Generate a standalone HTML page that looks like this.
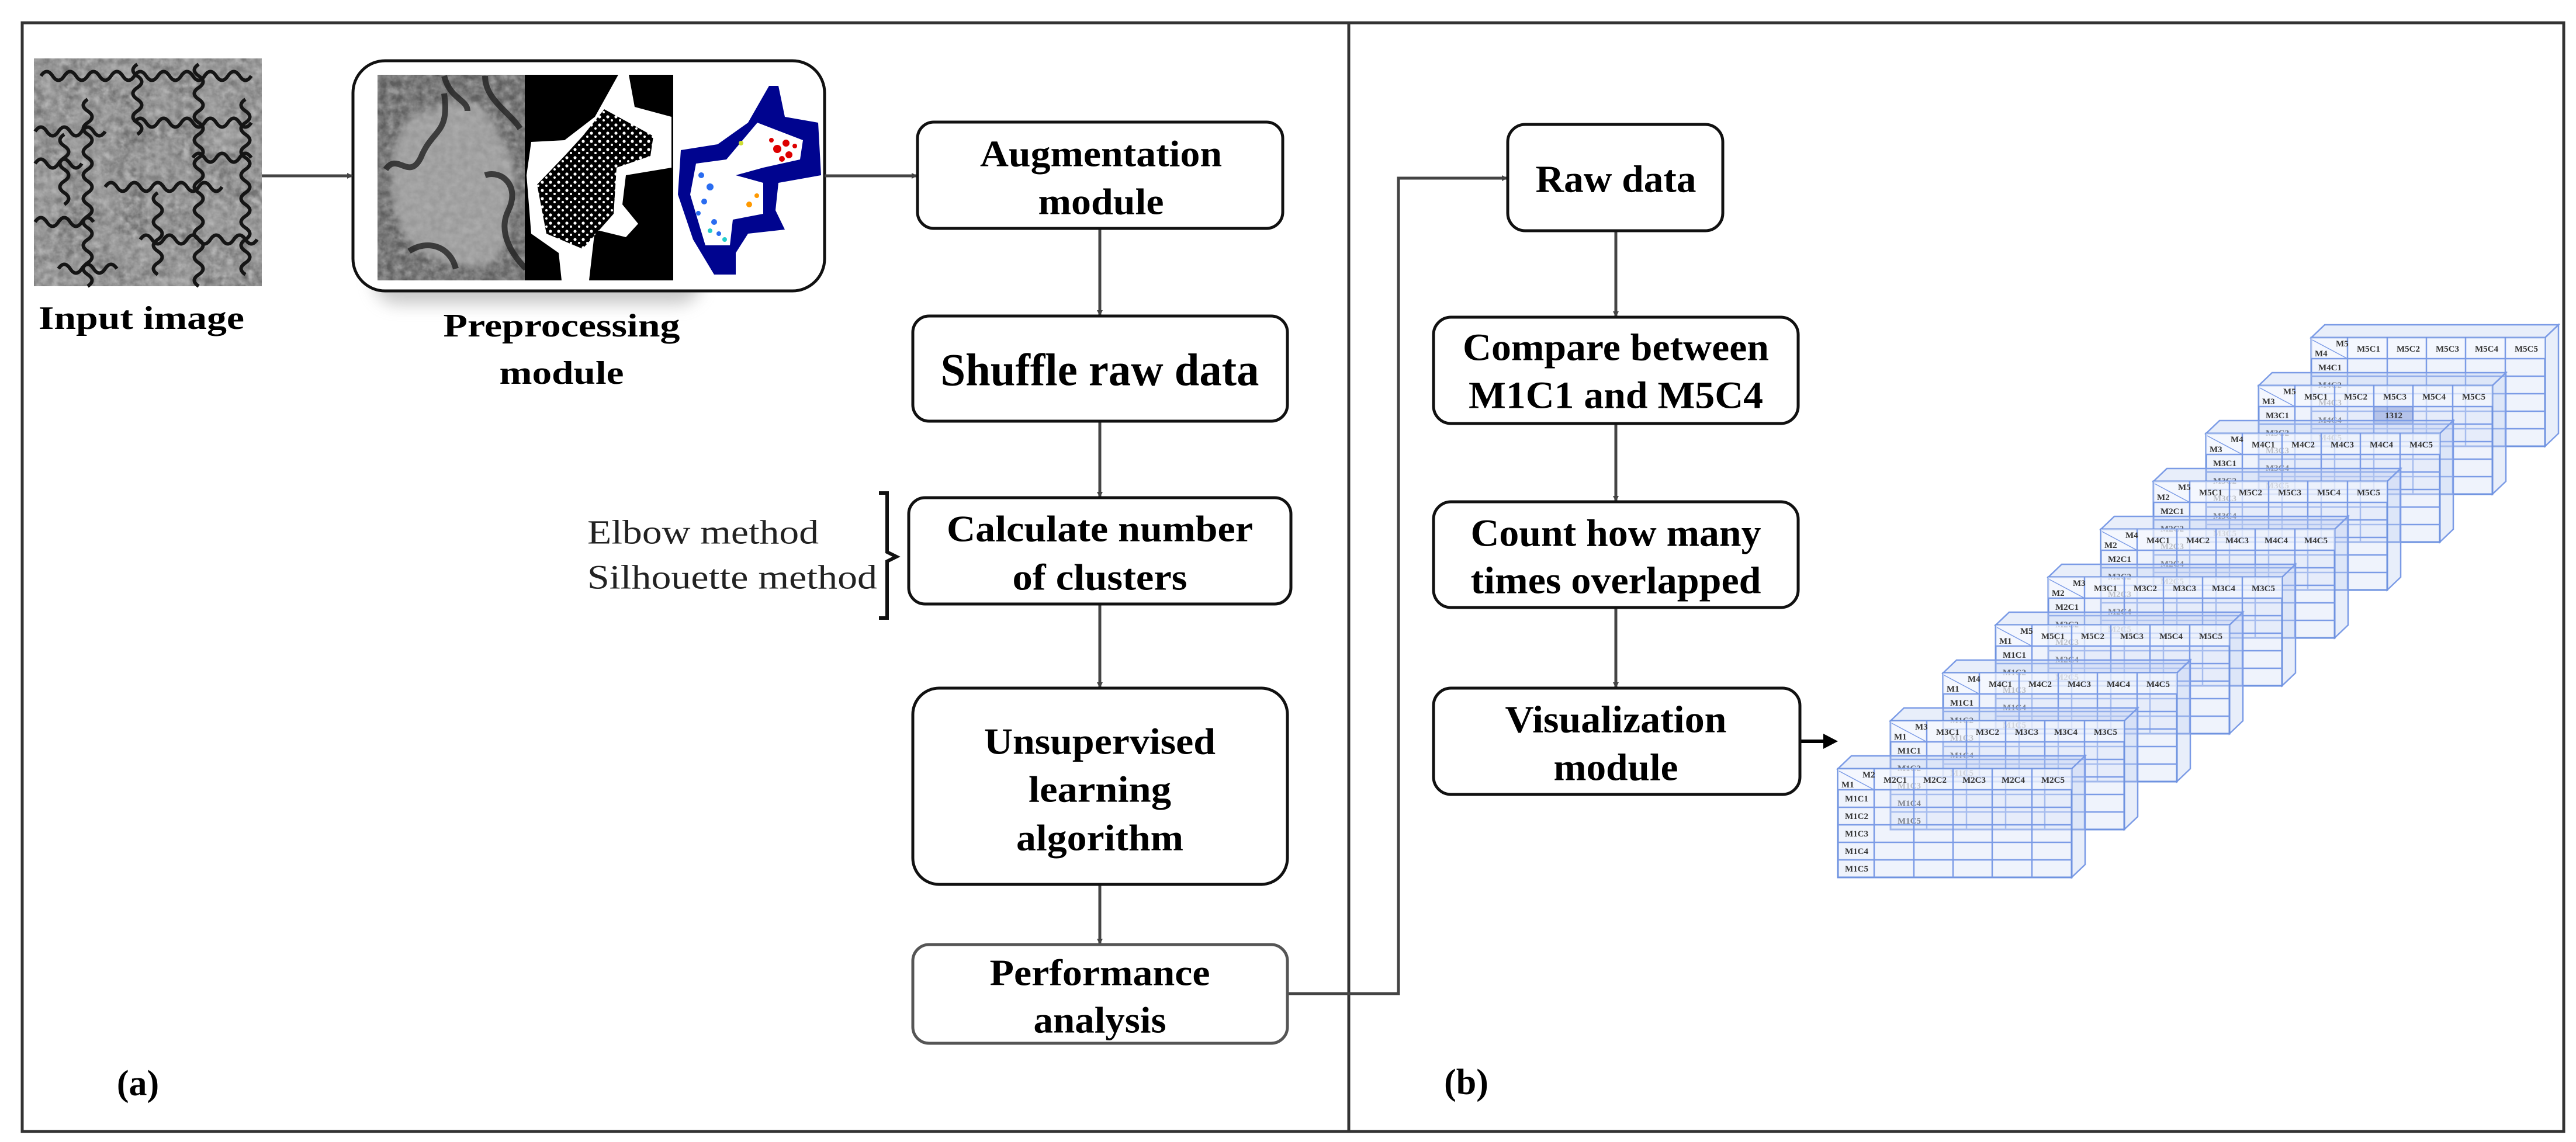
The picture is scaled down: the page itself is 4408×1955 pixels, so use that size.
<!DOCTYPE html>
<html><head><meta charset="utf-8"><style>
html,body{margin:0;padding:0;background:#fff}
svg{display:block}
text{font-family:"Liberation Serif","Times New Roman",serif}
.b{font-weight:bold;fill:#000}
.t{font-weight:bold;font-size:15px;fill:#333}
</style></head><body>
<svg width="4408" height="1955" viewBox="0 0 4408 1955" xmlns="http://www.w3.org/2000/svg" font-family="Liberation Serif, serif">
<defs>
<filter id="noise" x="0" y="0" width="100%" height="100%">
<feTurbulence type="fractalNoise" baseFrequency="0.08" numOctaves="3" seed="3"/>
<feColorMatrix type="matrix" values="0 0 0 0 0.45  0 0 0 0 0.45  0 0 0 0 0.45  0.9 0.9 0.9 0 -0.9"/>
</filter>
<filter id="noise2" x="0" y="0" width="100%" height="100%">
<feTurbulence type="fractalNoise" baseFrequency="0.02" numOctaves="3" seed="8"/>
<feColorMatrix type="matrix" values="0 0 0 0 0.3  0 0 0 0 0.3  0 0 0 0 0.3  0.9 0.9 0.9 0 -0.9"/>
</filter>
<filter id="shadow" x="-20%" y="-20%" width="140%" height="150%">
<feGaussianBlur stdDeviation="14"/>
</filter>
<filter id="blur4"><feGaussianBlur stdDeviation="6"/></filter>
<pattern id="speck" width="14" height="14" patternUnits="userSpaceOnUse">
<rect width="14" height="14" fill="#000"/>
<circle cx="4" cy="4" r="2.6" fill="#fff"/><circle cx="11" cy="10" r="2" fill="#fff"/>
</pattern>
<marker id="ah" markerWidth="10" markerHeight="10" refX="8" refY="5" orient="auto" markerUnits="userSpaceOnUse" viewBox="0 0 10 10">
<path d="M0,0 L10,5 L0,10 z" fill="#444"/></marker>
<g id="tbl">
<polygon points="0,0 23,-22 423,-22 400,0" fill="rgba(190,205,240,0.35)" stroke="#7b9be6" stroke-width="2.5"/>
<polygon points="400,0 423,-22 423,164 400,186" fill="rgba(190,205,240,0.35)" stroke="#7b9be6" stroke-width="2.5"/>
<rect x="0" y="0" width="400" height="186" fill="rgba(220,228,248,0.45)" stroke="#6f93e0" stroke-width="3"/>
<rect x="0" y="0" width="400" height="36" fill="rgba(250,251,255,0.5)"/>
<g stroke="#7b9be6" stroke-width="2.5" fill="none">
<path d="M0,36H400M0,66H400M0,96H400M0,126H400M0,156H400"/>
<path d="M62,0V186M130,0V186M197,0V186M264,0V186M332,0V186"/>
<path d="M2,4L62,36" stroke-width="1.5"/>
</g>
</g>
</defs>

<rect x="38" y="39" width="4349" height="1898" fill="none" stroke="#333" stroke-width="5"/>
<line x1="2308" y1="39" x2="2308" y2="1937" stroke="#333" stroke-width="5"/>

<!-- input image -->
<rect x="58" y="100" width="390" height="390" fill="#6a6a6a"/>
<rect x="58" y="100" width="390" height="390" filter="url(#noise2)"/>
<rect x="58" y="100" width="390" height="390" filter="url(#noise)"/>
<g fill="none" stroke="#151515" stroke-width="6">
<path d="M70,130 q10,-15 20,0 t20,0 t20,0 t20,0 t20,0 t20,0 t20,0 t20,0 t20,0 t20,0 t20,0 t20,0 t20,0 t20,0 t20,0 t20,0 t20,0 t20,0"/>
<path d="M60,225 q10,-15 20,0 t20,0 t20,0 t20,0 t20,0 t20,0"/>
<path d="M230,210 q10,-15 20,0 t20,0 t20,0 t20,0 t20,0 t20,0 t20,0 t20,0 t20,0 t20,0"/>
<path d="M180,320 q10,-15 20,0 t20,0 t20,0 t20,0 t20,0 t20,0 t20,0 t20,0 t20,0 t20,0"/>
<path d="M60,380 q10,-15 20,0 t20,0 t20,0 t20,0 t20,0"/>
<path d="M240,410 q10,-15 20,0 t20,0 t20,0 t20,0 t20,0 t20,0 t20,0 t20,0 t20,0 t20,0"/>
<path d="M60,280 q10,-15 20,0 t20,0 t20,0 t20,0"/>
<path d="M100,460 q10,-15 20,0 t20,0 t20,0 t20,0 t20,0"/>
<path d="M330,270 q10,-15 20,0 t20,0 t20,0 t20,0 t20,0"/>
<path d="M150,170 q-15,10 0,20 t0,20 t0,20 t0,20 t0,20 t0,20 t0,20 t0,20 t0,20 t0,20 t0,20 t0,20 t0,20 t0,20 t0,20 t0,20"/>
<path d="M235,110 q-15,10 0,20 t0,20 t0,20 t0,20 t0,20 t0,20"/>
<path d="M340,110 q-15,10 0,20 t0,20 t0,20 t0,20 t0,20 t0,20 t0,20 t0,20 t0,20 t0,20 t0,20 t0,20 t0,20 t0,20 t0,20 t0,20 t0,20 t0,20 t0,20"/>
<path d="M270,330 q-15,10 0,20 t0,20 t0,20 t0,20 t0,20 t0,20 t0,20"/>
<path d="M420,170 q-15,10 0,20 t0,20 t0,20 t0,20 t0,20 t0,20 t0,20 t0,20 t0,20 t0,20 t0,20 t0,20 t0,20 t0,20 t0,20"/>
<path d="M110,230 q-15,10 0,20 t0,20 t0,20 t0,20 t0,20 t0,20"/>
</g>
<text class="b" x="242" y="545" font-size="56" text-anchor="middle" dominant-baseline="central" textLength="352" lengthAdjust="spacingAndGlyphs">Input image</text>

<!-- preprocessing -->
<rect x="640" y="150" width="560" height="370" rx="40" fill="#999" opacity="0.55" filter="url(#shadow)"/>
<rect x="604" y="104" width="807" height="394" rx="55" fill="#fff" stroke="#111" stroke-width="5"/>
<rect x="646" y="128" width="252" height="352" fill="#5e5e5e"/>
<path d="M700,200 C760,180 800,150 840,200 C860,250 890,270 880,330 C860,380 880,420 840,450 C780,470 720,440 690,400 C660,340 660,260 700,200 z" fill="#9a9a9a" filter="url(#blur4)"/>
<rect x="646" y="128" width="252" height="352" filter="url(#noise)" opacity="0.7"/>
<g fill="none" stroke="#222" stroke-width="10" opacity="0.8">
<path d="M660,290 c20,-30 40,20 60,-20 c20,-50 50,-40 40,-110 M760,130 c10,40 40,40 40,60 M830,130 c0,40 40,60 60,90 M830,300 c30,-10 60,20 40,60 c-20,40 10,80 30,100 M700,430 c30,-20 70,-10 80,30"/>
</g>
<rect x="898" y="128" width="254" height="352" fill="#000"/>
<polygon points="1058,128 1076,128 1086,183 1149,200 1149,287 1071,300 1065,350 1092,383 1071,406 1018,393 1008,480 961,480 956,433 909,400 901,300 909,243 966,240 1018,200" fill="#fff"/>
<polygon points="1034,187 1118,233 1113,267 1055,287 1050,366 997,426 935,400 919,316 966,267 997,233" fill="url(#speck)"/>
<polygon points="1316,147 1332,147 1343,200 1400,210 1405,300 1332,313 1327,360 1343,393 1280,400 1259,433 1259,470 1222,470 1186,410 1160,333 1165,257 1228,247 1280,210" fill="#00048f"/>
<polygon points="1296,210 1374,240 1369,273 1306,287 1259,300 1306,313 1306,366 1254,376 1249,420 1207,420 1181,333 1191,280 1243,273" fill="#fff"/>
<g fill="#d00">
<circle cx="1330" cy="255" r="7"/><circle cx="1345" cy="245" r="6"/><circle cx="1350" cy="265" r="6"/><circle cx="1320" cy="240" r="4"/><circle cx="1360" cy="250" r="4"/><circle cx="1338" cy="272" r="5"/></g>
<g fill="#2a6cf0"><circle cx="1200" cy="300" r="5"/><circle cx="1215" cy="320" r="6"/><circle cx="1205" cy="345" r="5"/><circle cx="1222" cy="380" r="5"/><circle cx="1230" cy="400" r="4"/><circle cx="1195" cy="365" r="4"/></g>
<g fill="#2cc"><circle cx="1240" cy="410" r="4"/><circle cx="1215" cy="395" r="4"/></g>
<g fill="#f90"><circle cx="1282" cy="350" r="5"/><circle cx="1295" cy="335" r="4"/></g>
<circle cx="1268" cy="245" r="4" fill="#cd3"/>
<text class="b" x="961" y="558" font-size="56" text-anchor="middle" dominant-baseline="central" textLength="405" lengthAdjust="spacingAndGlyphs">Preprocessing</text>
<text class="b" x="961" y="639" font-size="56" text-anchor="middle" dominant-baseline="central" textLength="213" lengthAdjust="spacingAndGlyphs">module</text>

<g stroke="#444" stroke-width="5" fill="none" marker-end="url(#ah)">
<line x1="448" y1="301" x2="602" y2="301"/>
<line x1="1411" y1="301" x2="1568" y2="301"/>
<line x1="1882" y1="391" x2="1882" y2="539"/>
<line x1="1882" y1="721" x2="1882" y2="850"/>
<line x1="1882" y1="1034" x2="1882" y2="1176"/>
<line x1="1882" y1="1514" x2="1882" y2="1615"/>
<polyline points="2203,1701 2393,1701 2393,305 2578,305"/>
<line x1="2765" y1="395" x2="2765" y2="541"/>
<line x1="2765" y1="725" x2="2765" y2="857"/>
<line x1="2765" y1="1040" x2="2765" y2="1176"/>
</g>
<line x1="3080" y1="1269" x2="3125" y2="1269" stroke="#000" stroke-width="6"/>
<polygon points="3120,1256 3145,1269 3120,1282" fill="#000"/>

<g fill="#fff" stroke="#111" stroke-width="5">
<rect x="1570" y="209" width="625" height="182" rx="28"/>
<rect x="1562" y="541" width="641" height="180" rx="28"/>
<rect x="1555" y="852" width="654" height="182" rx="28"/>
<rect x="1562" y="1178" width="641" height="336" rx="45"/>
<rect x="1562" y="1617" width="641" height="169" rx="28" stroke="#555"/>
</g>
<text class="b" x="1884" y="263" font-size="64" text-anchor="middle" dominant-baseline="central" textLength="414" lengthAdjust="spacingAndGlyphs">Augmentation</text>
<text class="b" x="1884" y="345" font-size="64" text-anchor="middle" dominant-baseline="central" textLength="215" lengthAdjust="spacingAndGlyphs">module</text>
<text class="b" x="1882" y="633" font-size="78" text-anchor="middle" dominant-baseline="central" textLength="545" lengthAdjust="spacingAndGlyphs">Shuffle raw data</text>
<text class="b" x="1882" y="905" font-size="64" text-anchor="middle" dominant-baseline="central" textLength="524" lengthAdjust="spacingAndGlyphs">Calculate number</text>
<text class="b" x="1882" y="988" font-size="64" text-anchor="middle" dominant-baseline="central" textLength="299" lengthAdjust="spacingAndGlyphs">of clusters</text>
<text class="b" x="1882" y="1269" font-size="64" text-anchor="middle" dominant-baseline="central" textLength="396" lengthAdjust="spacingAndGlyphs">Unsupervised</text>
<text class="b" x="1882" y="1351" font-size="64" text-anchor="middle" dominant-baseline="central" textLength="244" lengthAdjust="spacingAndGlyphs">learning</text>
<text class="b" x="1882" y="1434" font-size="64" text-anchor="middle" dominant-baseline="central" textLength="286" lengthAdjust="spacingAndGlyphs">algorithm</text>
<text class="b" x="1882" y="1665" font-size="64" text-anchor="middle" dominant-baseline="central" textLength="377" lengthAdjust="spacingAndGlyphs">Performance</text>
<text class="b" x="1882" y="1746" font-size="64" text-anchor="middle" dominant-baseline="central" textLength="227" lengthAdjust="spacingAndGlyphs">analysis</text>

<text x="1005" y="911" font-size="58" fill="#222" dominant-baseline="central" textLength="396" lengthAdjust="spacingAndGlyphs">Elbow method</text>
<text x="1005" y="988" font-size="58" fill="#222" dominant-baseline="central" textLength="496" lengthAdjust="spacingAndGlyphs">Silhouette method</text>
<path d="M1504,844 H1518 V945 L1534,953 L1518,961 V1058 H1504" fill="none" stroke="#111" stroke-width="6"/>
<text class="b" x="236" y="1855" font-size="62" text-anchor="middle" dominant-baseline="central">(a)</text>

<g fill="#fff" stroke="#111" stroke-width="5">
<rect x="2580" y="213" width="368" height="182" rx="30"/>
<rect x="2453" y="543" width="624" height="182" rx="30"/>
<rect x="2453" y="859" width="624" height="181" rx="30"/>
<rect x="2453" y="1178" width="627" height="182" rx="30"/>
</g>
<text class="b" x="2765" y="307" font-size="66" text-anchor="middle" dominant-baseline="central" textLength="275" lengthAdjust="spacingAndGlyphs">Raw data</text>
<text class="b" x="2765" y="595" font-size="66" text-anchor="middle" dominant-baseline="central" textLength="524" lengthAdjust="spacingAndGlyphs">Compare between</text>
<text class="b" x="2765" y="677" font-size="66" text-anchor="middle" dominant-baseline="central" textLength="504" lengthAdjust="spacingAndGlyphs">M1C1 and M5C4</text>
<text class="b" x="2765" y="913" font-size="66" text-anchor="middle" dominant-baseline="central" textLength="497" lengthAdjust="spacingAndGlyphs">Count how many</text>
<text class="b" x="2765" y="994" font-size="66" text-anchor="middle" dominant-baseline="central" textLength="497" lengthAdjust="spacingAndGlyphs">times overlapped</text>
<text class="b" x="2765" y="1232" font-size="66" text-anchor="middle" dominant-baseline="central" textLength="379" lengthAdjust="spacingAndGlyphs">Visualization</text>
<text class="b" x="2765" y="1314" font-size="66" text-anchor="middle" dominant-baseline="central" textLength="213" lengthAdjust="spacingAndGlyphs">module</text>
<text class="b" x="2509" y="1853" font-size="62" text-anchor="middle" dominant-baseline="central">(b)</text>

<g transform="translate(3955,578)"><use href="#tbl"/><text class="t" x="42" y="15">M5</text><text class="t" x="6" y="32">M4</text><text class="t" x="78" y="24">M5C1</text><text class="t" x="146" y="24">M5C2</text><text class="t" x="213" y="24">M5C3</text><text class="t" x="280" y="24">M5C4</text><text class="t" x="348" y="24">M5C5</text><text class="t" x="12" y="56">M4C1</text><text class="t" x="12" y="86">M4C2</text><text class="t" x="12" y="116">M4C3</text><text class="t" x="12" y="146">M4C4</text><text class="t" x="12" y="176">M4C5</text></g>
<g transform="translate(3865,660)"><use href="#tbl"/><text class="t" x="42" y="15">M5</text><text class="t" x="6" y="32">M3</text><text class="t" x="78" y="24">M5C1</text><text class="t" x="146" y="24">M5C2</text><text class="t" x="213" y="24">M5C3</text><text class="t" x="280" y="24">M5C4</text><text class="t" x="348" y="24">M5C5</text><text class="t" x="12" y="56">M3C1</text><text class="t" x="12" y="86">M3C2</text><text class="t" x="12" y="116">M3C3</text><text class="t" x="12" y="146">M3C4</text><text class="t" x="12" y="176">M3C5</text><rect x="197" y="36" width="67" height="30" fill="rgba(90,120,200,0.35)"/><text class="t" x="216" y="56">1312</text></g>
<g transform="translate(3775,742)"><use href="#tbl"/><text class="t" x="42" y="15">M4</text><text class="t" x="6" y="32">M3</text><text class="t" x="78" y="24">M4C1</text><text class="t" x="146" y="24">M4C2</text><text class="t" x="213" y="24">M4C3</text><text class="t" x="280" y="24">M4C4</text><text class="t" x="348" y="24">M4C5</text><text class="t" x="12" y="56">M3C1</text><text class="t" x="12" y="86">M3C2</text><text class="t" x="12" y="116">M3C3</text><text class="t" x="12" y="146">M3C4</text><text class="t" x="12" y="176">M3C5</text></g>
<g transform="translate(3685,824)"><use href="#tbl"/><text class="t" x="42" y="15">M5</text><text class="t" x="6" y="32">M2</text><text class="t" x="78" y="24">M5C1</text><text class="t" x="146" y="24">M5C2</text><text class="t" x="213" y="24">M5C3</text><text class="t" x="280" y="24">M5C4</text><text class="t" x="348" y="24">M5C5</text><text class="t" x="12" y="56">M2C1</text><text class="t" x="12" y="86">M2C2</text><text class="t" x="12" y="116">M2C3</text><text class="t" x="12" y="146">M2C4</text><text class="t" x="12" y="176">M2C5</text></g>
<g transform="translate(3595,906)"><use href="#tbl"/><text class="t" x="42" y="15">M4</text><text class="t" x="6" y="32">M2</text><text class="t" x="78" y="24">M4C1</text><text class="t" x="146" y="24">M4C2</text><text class="t" x="213" y="24">M4C3</text><text class="t" x="280" y="24">M4C4</text><text class="t" x="348" y="24">M4C5</text><text class="t" x="12" y="56">M2C1</text><text class="t" x="12" y="86">M2C2</text><text class="t" x="12" y="116">M2C3</text><text class="t" x="12" y="146">M2C4</text><text class="t" x="12" y="176">M2C5</text></g>
<g transform="translate(3505,988)"><use href="#tbl"/><text class="t" x="42" y="15">M3</text><text class="t" x="6" y="32">M2</text><text class="t" x="78" y="24">M3C1</text><text class="t" x="146" y="24">M3C2</text><text class="t" x="213" y="24">M3C3</text><text class="t" x="280" y="24">M3C4</text><text class="t" x="348" y="24">M3C5</text><text class="t" x="12" y="56">M2C1</text><text class="t" x="12" y="86">M2C2</text><text class="t" x="12" y="116">M2C3</text><text class="t" x="12" y="146">M2C4</text><text class="t" x="12" y="176">M2C5</text></g>
<g transform="translate(3415,1070)"><use href="#tbl"/><text class="t" x="42" y="15">M5</text><text class="t" x="6" y="32">M1</text><text class="t" x="78" y="24">M5C1</text><text class="t" x="146" y="24">M5C2</text><text class="t" x="213" y="24">M5C3</text><text class="t" x="280" y="24">M5C4</text><text class="t" x="348" y="24">M5C5</text><text class="t" x="12" y="56">M1C1</text><text class="t" x="12" y="86">M1C2</text><text class="t" x="12" y="116">M1C3</text><text class="t" x="12" y="146">M1C4</text><text class="t" x="12" y="176">M1C5</text></g>
<g transform="translate(3325,1152)"><use href="#tbl"/><text class="t" x="42" y="15">M4</text><text class="t" x="6" y="32">M1</text><text class="t" x="78" y="24">M4C1</text><text class="t" x="146" y="24">M4C2</text><text class="t" x="213" y="24">M4C3</text><text class="t" x="280" y="24">M4C4</text><text class="t" x="348" y="24">M4C5</text><text class="t" x="12" y="56">M1C1</text><text class="t" x="12" y="86">M1C2</text><text class="t" x="12" y="116">M1C3</text><text class="t" x="12" y="146">M1C4</text><text class="t" x="12" y="176">M1C5</text></g>
<g transform="translate(3235,1234)"><use href="#tbl"/><text class="t" x="42" y="15">M3</text><text class="t" x="6" y="32">M1</text><text class="t" x="78" y="24">M3C1</text><text class="t" x="146" y="24">M3C2</text><text class="t" x="213" y="24">M3C3</text><text class="t" x="280" y="24">M3C4</text><text class="t" x="348" y="24">M3C5</text><text class="t" x="12" y="56">M1C1</text><text class="t" x="12" y="86">M1C2</text><text class="t" x="12" y="116">M1C3</text><text class="t" x="12" y="146">M1C4</text><text class="t" x="12" y="176">M1C5</text></g>
<g transform="translate(3145,1316)"><use href="#tbl"/><text class="t" x="42" y="15">M2</text><text class="t" x="6" y="32">M1</text><text class="t" x="78" y="24">M2C1</text><text class="t" x="146" y="24">M2C2</text><text class="t" x="213" y="24">M2C3</text><text class="t" x="280" y="24">M2C4</text><text class="t" x="348" y="24">M2C5</text><text class="t" x="12" y="56">M1C1</text><text class="t" x="12" y="86">M1C2</text><text class="t" x="12" y="116">M1C3</text><text class="t" x="12" y="146">M1C4</text><text class="t" x="12" y="176">M1C5</text></g>
</svg>
</body></html>
